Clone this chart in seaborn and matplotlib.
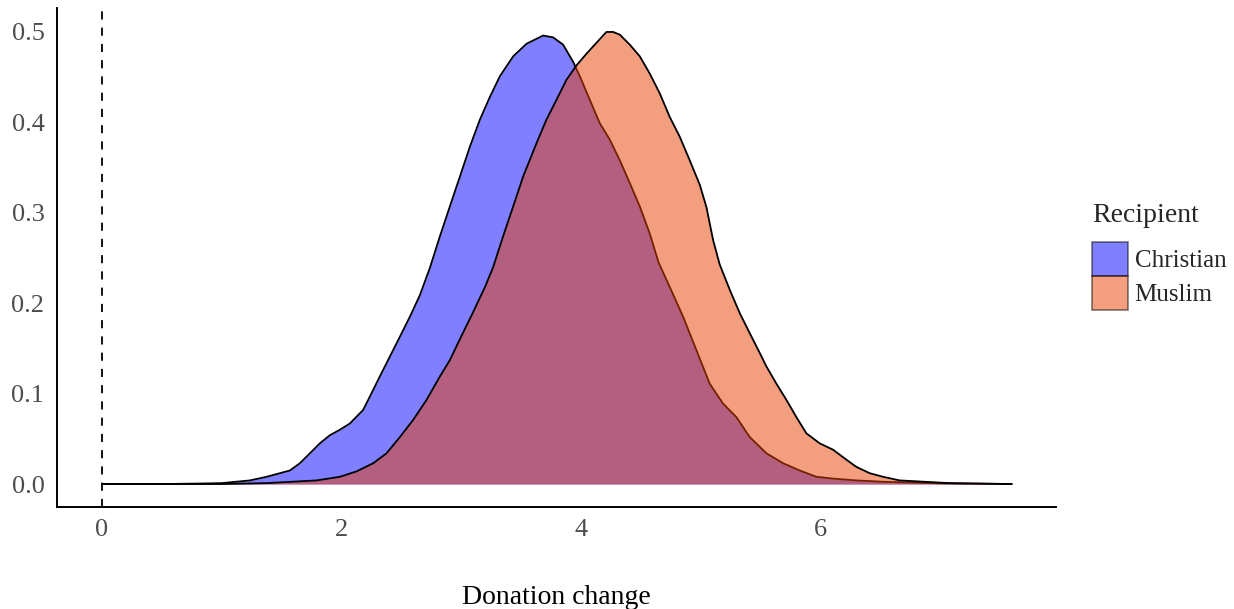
import pandas as pd
import matplotlib
matplotlib.use("Agg")
import matplotlib.pyplot as plt
from matplotlib.patches import Patch
import seaborn as sns

sns.set_theme(style="white")
plt.rcParams['font.family'] = ['Liberation Serif', 'DejaVu Serif']

# Density curves
christian_x = [0, 0.5, 0.8, 1.0, 1.236, 1.375, 1.570, 1.653, 1.737, 1.820, 1.904,
               1.987, 2.071, 2.182, 2.265, 2.321, 2.405, 2.489, 2.572, 2.656, 2.739,
               2.823, 2.906, 2.990, 3.073, 3.157, 3.240, 3.324, 3.435, 3.547, 3.685,
               3.769, 3.852, 3.936, 3.992, 4.075, 4.159, 4.242, 4.326, 4.409, 4.493,
               4.576, 4.650, 4.743, 4.855, 4.966, 5.077, 5.188, 5.300, 5.411, 5.551,
               5.690, 5.829, 5.968, 6.107, 6.302, 6.525, 7.0, 7.6]
christian_y = [0, 0, 0.0005, 0.001, 0.004, 0.008, 0.015, 0.023, 0.034, 0.045, 0.054,
               0.060, 0.067, 0.082, 0.104, 0.119, 0.141, 0.163, 0.185, 0.209, 0.239,
               0.274, 0.307, 0.340, 0.373, 0.403, 0.428, 0.451, 0.473, 0.487, 0.496,
               0.494, 0.486, 0.467, 0.451, 0.425, 0.399, 0.381, 0.358, 0.333, 0.307,
               0.277, 0.245, 0.218, 0.185, 0.148, 0.111, 0.089, 0.074, 0.052, 0.034,
               0.023, 0.015, 0.008, 0.006, 0.004, 0.0025, 0.0008, 0]

muslim_x = [0, 1.0, 1.375, 1.793, 1.987, 2.127, 2.266, 2.377, 2.489, 2.600, 2.711,
            2.823, 2.906, 3.0, 3.1, 3.2, 3.268, 3.351, 3.435, 3.518, 3.630, 3.713,
            3.797, 3.880, 3.964, 4.048, 4.131, 4.214, 4.27, 4.326, 4.409, 4.493,
            4.576, 4.660, 4.743, 4.827, 4.910, 4.994, 5.050, 5.105, 5.160, 5.244,
            5.328, 5.411, 5.495, 5.551, 5.634, 5.718, 5.801, 5.885, 5.996, 6.107,
            6.218, 6.302, 6.413, 6.525, 6.664, 7.08, 7.6]
muslim_y = [0, 0, 0.001, 0.004, 0.008, 0.014, 0.023, 0.034, 0.052, 0.071, 0.093,
            0.119, 0.137, 0.163, 0.190, 0.218, 0.240, 0.274, 0.307, 0.340, 0.377,
            0.403, 0.425, 0.447, 0.463, 0.476, 0.488, 0.500, 0.500, 0.497, 0.486,
            0.473, 0.454, 0.432, 0.406, 0.384, 0.358, 0.331, 0.306, 0.270, 0.243,
            0.215, 0.189, 0.167, 0.145, 0.130, 0.111, 0.093, 0.074, 0.056, 0.045,
            0.038, 0.027, 0.019, 0.012, 0.008, 0.004, 0.001, 0]

recipients = ["Christian", "Muslim"]
fill_colors = {"Christian": "#0000FF", "Muslim": "#E94100"}

df = pd.concat([
    pd.DataFrame({"x": christian_x, "density": christian_y, "Recipient": "Christian"}),
    pd.DataFrame({"x": muslim_x, "density": muslim_y, "Recipient": "Muslim"}),
])

fig = plt.figure(figsize=(12.34, 6.09), dpi=100)
ax = fig.add_axes([57 / 1234, 102 / 609, 999 / 1234, 499 / 609])

for i, name in enumerate(recipients):
    sub = df[df["Recipient"] == name]
    ax.fill_between(sub["x"], 0, sub["density"], color=fill_colors[name],
                    alpha=0.5, linewidth=0, zorder=2 * i + 1)
    sns.lineplot(data=sub, x="x", y="density", color="black", linewidth=1.3,
                 ax=ax, zorder=2 * i + 2)

ax.axvline(0, color="black", linestyle=(0, (4.5, 4.5)), linewidth=1.3, zorder=0)

ax.set_xlim(-0.376, 7.97)
ax.set_ylim(-0.0254, 0.5265)
ax.set_xticks([0, 2, 4, 6])
ax.set_yticks([0.0, 0.1, 0.2, 0.3, 0.4, 0.5])
ax.set_yticklabels(["0.0", "0.1", "0.2", "0.3", "0.4", "0.5"])
ax.tick_params(axis="both", length=0, labelsize=19, colors="#4D4D4D", pad=9)
ax.set_xlabel("Donation change", fontsize=20, color="black", labelpad=31)
ax.set_ylabel("")

sns.despine(ax=ax)
for side in ["left", "bottom"]:
    ax.spines[side].set_color("black")
    ax.spines[side].set_linewidth(1.4)

# legend: title as its own text, boxes stacked with no gap
fig.text(1092 / 1234, 1 - 216 / 609, "Recipient", fontsize=20, ha="left", va="center")
handles = [Patch(facecolor=fill_colors[n], alpha=0.5, edgecolor="black", linewidth=1.2)
           for n in recipients]
leg = fig.legend(handles, recipients, loc="upper left",
                 bbox_to_anchor=(1092 / 1234, 1 - 242 / 609), frameon=False,
                 fontsize=18, handlelength=1.45, handleheight=1.73,
                 labelspacing=0.0, handletextpad=0.25, borderaxespad=0, borderpad=0)
for h in leg.legend_handles:
    h.set_edgecolor("black")

fig.savefig("out.png", dpi=100)
